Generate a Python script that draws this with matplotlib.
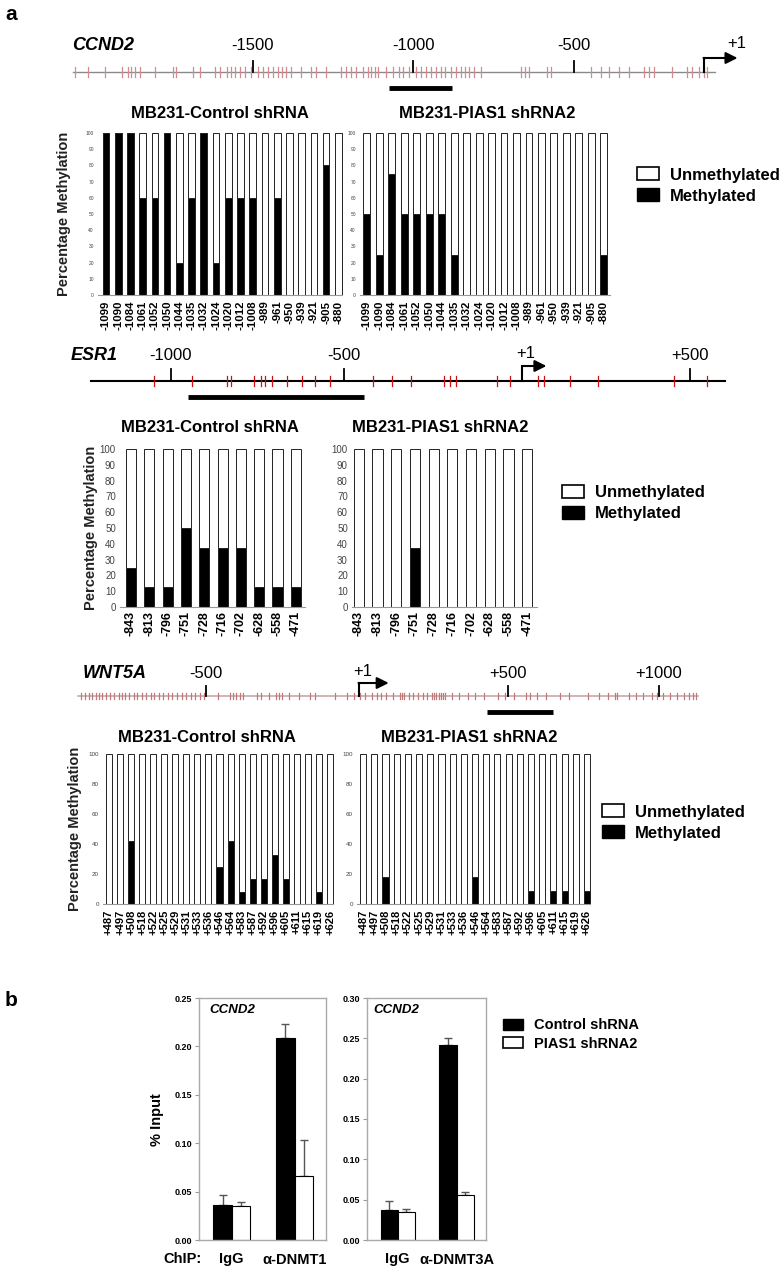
import matplotlib.pyplot as plt
from matplotlib.patches import Patch
from matplotlib.ticker import MultipleLocator, FormatStrFormatter

plt.rcParams['font.family'] = ['Liberation Sans', 'DejaVu Sans']

W, H = 782, 1271

# ---------------- gene maps (positions in bp relative to TSS) ----------------
CCND2_CPG = [-2053, -2014, -1959, -1905, -1889, -1878, -1866, -1850, -1803, -1748,
             -1738, -1686, -1663, -1616, -1600, -1581, -1566, -1553, -1538, -1522,
             -1506, -1483, -1467, -1452, -1436, -1420, -1409, -1397, -1381, -1350,
             -1319, -1303, -1272, -1225, -1209, -1194, -1178, -1155, -1139, -1131,
             -1119, -1108, -1084, -1061, -1045, -1030, -1014, -991, -975, -959,
             -944, -928, -913, -900, -881, -866, -850, -838, -827, -811, -788,
             -663, -650, -639, -584, -569, -444, -413, -389, -358, -327, -280,
             -264, -248, -194, -147, -131, -108, -92, -84]
CCND2_TICKS = [-1500, -1000, -500]
CCND2_SPAN = (-2060, -58)
CCND2_TSS = -95
CCND2_AMPLICON = (-1075, -880)

ESR1_CPG = [-1048, -938, -836, -825, -760, -739, -727, -708, -664, -620, -583,
            -541, -415, -361, -306, -210, -192, -177, -59, -19, 62, 78, 153, 234,
            453, 548]
ESR1_TICKS = [-1000, -500, 500]
ESR1_SPAN = (-1230, 600)
ESR1_TSS = 15
ESR1_AMPLICON = (-950, -442)

WNT5A_CPG = [-915, -900, -889, -877, -865, -854, -844, -831, -819, -804, -789,
             -778, -768, -756, -740, -728, -713, -698, -683, -672, -657, -642,
             -626, -611, -596, -581, -566, -550, -535, -520, -505, -459, -421,
             -409, -399, -388, -376, -330, -318, -292, -269, -257, -247, -224,
             -193, -155, -140, -72, -34, -11, 11, 27, 50, 65, 80, 95, 118, 141,
             148, 156, 171, 186, 201, 217, 232, 247, 255, 262, 270, 277, 285,
             293, 315, 338, 369, 391, 422, 467, 490, 521, 558, 574, 596, 627,
             672, 703, 764, 802, 832, 855, 862, 900, 923, 946, 976, 992, 1014,
             1037, 1060, 1083, 1098, 1113, 1121]
WNT5A_TICKS = [-500, 500, 1000]
WNT5A_SPAN = (-924, 1129)
WNT5A_TSS = 5
WNT5A_AMPLICON = (430, 649)

# ---------------- bisulfite sequencing (% methylated) ----------------
CCND2_SITES = ['-1099', '-1090', '-1084', '-1061', '-1052', '-1050', '-1044',
               '-1035', '-1032', '-1024', '-1020', '-1012', '-1008', '-989',
               '-961', '-950', '-939', '-921', '-905', '-880']
CCND2_CTRL = [100, 100, 100, 60, 60, 100, 20, 60, 100, 20, 60, 60, 60, 0, 60,
              0, 0, 0, 80, 0]
CCND2_PIAS = [50, 25, 75, 50, 50, 50, 50, 25, 0, 0, 0, 0, 0, 0, 0, 0, 0, 0, 0, 25]

ESR1_SITES = ['-843', '-813', '-796', '-751', '-728', '-716', '-702', '-628',
              '-558', '-471']
ESR1_CTRL = [25, 12.5, 12.5, 50, 37.5, 37.5, 37.5, 12.5, 12.5, 12.5]
ESR1_PIAS = [0, 0, 0, 37.5, 0, 0, 0, 0, 0, 0]

WNT5A_SITES = ['+487', '+497', '+508', '+518', '+522', '+525', '+529', '+531',
               '+533', '+536', '+546', '+564', '+583', '+587', '+592', '+596',
               '+605', '+611', '+615', '+619', '+626']
WNT5A_CTRL = [0, 0, 42, 0, 0, 0, 0, 0, 0, 0, 25, 42, 8, 17, 17, 33, 17, 0, 0, 8, 0]
WNT5A_PIAS = [0, 0, 18, 0, 0, 0, 0, 0, 0, 0, 18, 0, 0, 0, 0, 9, 0, 9, 9, 0, 9]

# ---------------- ChIP (% input) ----------------
CHIP1_GROUPS = ['IgG', 'α-DNMT1']
CHIP1_CTRL = [0.036, 0.209]
CHIP1_CTRL_ERR = [0.011, 0.014]
CHIP1_PIAS = [0.035, 0.066]
CHIP1_PIAS_ERR = [0.004, 0.037]

CHIP2_GROUPS = ['IgG', 'α-DNMT3A']
CHIP2_CTRL = [0.037, 0.242]
CHIP2_CTRL_ERR = [0.011, 0.009]
CHIP2_PIAS = [0.035, 0.056]
CHIP2_PIAS_ERR = [0.004, 0.003]

fig = plt.figure(figsize=(W / 100, H / 100), dpi=100)


def rect(l, t, r, b):
    return [l / W, 1 - b / H, (r - l) / W, (b - t) / H]


def put(x, y, s, **kw):
    fig.text(x / W, 1 - y / H, s, **kw)


def gene_map(name, name_x, y, xlim, span, ticks, tss, tss_lab_x, cpg, amplicon,
             line_color, line_w, cpg_color, cpg_h, arrow_len, lab_dy, tick_h):
    ax = fig.add_axes(rect(0, 0, W, H))
    ax.set_xlim(*xlim)
    ax.set_ylim(H, 0)
    ax.axis('off')
    ax.plot(span, [y, y], color=line_color, lw=line_w, zorder=1)
    for c in cpg:
        ax.plot([c, c], [y - cpg_h, y + cpg_h], color=cpg_color, lw=0.9, zorder=2)
    for t in ticks:
        ax.plot([t, t], [y - tick_h, y], color='black', lw=1.3, zorder=3)
        ax.text(t, y - lab_dy, f'{t:+d}', ha='center', va='center', fontsize=12)
    # transcription start arrow
    ax.plot([tss, tss], [y, y - tick_h - 3], color='black', lw=1.5, zorder=3)
    ax.annotate('', xy=(tss + arrow_len, y - tick_h - 3), xytext=(tss, y - tick_h - 3),
                arrowprops=dict(arrowstyle='-|>,head_length=0.7,head_width=0.35',
                                color='black', lw=1.5, shrinkA=0, shrinkB=0))
    ax.text(tss_lab_x, y - lab_dy - 2, '+1', ha='center', va='center', fontsize=12)
    ax.plot(amplicon, [y + 16, y + 16], color='black', lw=3.5, solid_capstyle='butt')
    put(name_x, y - lab_dy, name, ha='left', va='center', fontsize=13,
        fontweight='bold', style='italic')


def meth_panel(box, sites, meth, xlim, ystep, ytick_fs, xtick_fs, xpad):
    ax = fig.add_axes(rect(*box))
    x = list(range(len(sites)))
    unmeth = [100 - m for m in meth]
    ax.bar(x, meth, width=0.55, color='black', edgecolor='#222222', linewidth=0.7,
           clip_on=False)
    ax.bar(x, unmeth, bottom=meth, width=0.55, color='white', edgecolor='#222222',
           linewidth=0.7, clip_on=False)
    ax.set_xlim(*xlim)
    ax.set_ylim(0, 100)
    ax.set_yticks(range(0, 101, ystep))
    ax.tick_params(axis='y', length=0, labelsize=ytick_fs, labelcolor='#444444', pad=3)
    ax.set_xticks(x)
    ax.set_xticklabels(sites, rotation=90, fontsize=xtick_fs, fontweight='bold')
    ax.tick_params(axis='x', length=0, pad=xpad)
    for s in ['top', 'right', 'left']:
        ax.spines[s].set_visible(False)
    ax.spines['bottom'].set_color('#999999')
    ax.patch.set_alpha(0)
    return ax


def meth_legend(x, y):
    handles = [Patch(facecolor='white', edgecolor='black', linewidth=1.2),
               Patch(facecolor='black', edgecolor='black')]
    fig.legend(handles, ['Unmethylated', 'Methylated'], loc='center left',
               bbox_to_anchor=(x / W, 1 - y / H), frameon=False,
               prop={'size': 12, 'weight': 'bold'}, handlelength=1.3,
               handleheight=0.8, handletextpad=0.7, labelspacing=0.35,
               borderpad=0, borderaxespad=0)


def ylab(x, y):
    put(x, y, 'Percentage Methylation', rotation=90, ha='center', va='center',
        fontsize=10.5, fontweight='bold', color='#222222')


put(11, 15, 'a', fontsize=15, fontweight='bold', ha='center', va='center')

# ---------- CCND2 ----------
gene_map('CCND2', 72, 72, (-2286.6, 149.5), CCND2_SPAN, CCND2_TICKS, CCND2_TSS, 10,
         CCND2_CPG, CCND2_AMPLICON, '#8a8a8a', 1.0, '#d68a90', 5, 106, 26, 11)
meth_panel((98, 133, 342, 295), CCND2_SITES, CCND2_CTRL, (-0.65, 19.3), 10, 3.5, 8.2, 4)
meth_panel((360, 133, 610, 295), CCND2_SITES, CCND2_PIAS, (-0.55, 19.5), 10, 3.5, 8.2, 4)
put(220, 113, 'MB231-Control shRNA', ha='center', va='center', fontsize=12, fontweight='bold')
put(487, 113, 'MB231-PIAS1 shRNA2', ha='center', va='center', fontsize=12, fontweight='bold')
ylab(64, 214)
meth_legend(637, 185.5)

# ---------- ESR1 ----------
gene_map('ESR1', 71, 381, (-1492.5, 765.0), ESR1_SPAN, ESR1_TICKS, ESR1_TSS, 25,
         ESR1_CPG, ESR1_AMPLICON, 'black', 1.5, '#cc1111', 5, 70, 26, 12)
meth_panel((120, 449, 305, 607), ESR1_SITES, ESR1_CTRL, (-0.6, 9.5), 10, 7, 9, 3)
meth_panel((352, 449, 537, 607), ESR1_SITES, ESR1_PIAS, (-0.37, 9.53), 10, 7, 9, 3)
put(210, 427, 'MB231-Control shRNA', ha='center', va='center', fontsize=12, fontweight='bold')
put(440, 427, 'MB231-PIAS1 shRNA2', ha='center', va='center', fontsize=12, fontweight='bold')
ylab(91, 528)
meth_legend(562, 503)

# ---------- WNT5A ----------
gene_map('WNT5A', 83, 696, (-1182.1, 1407.3), WNT5A_SPAN, WNT5A_TICKS, WNT5A_TSS, 20,
         WNT5A_CPG, WNT5A_AMPLICON, '#c9a9a9', 1.2, '#c07878', 3, 100, 23, 10)
meth_panel((103, 754, 333, 904), WNT5A_SITES, WNT5A_CTRL, (-0.54, 20.27), 20, 4.5, 8, 4)
meth_panel((357, 754, 590, 904), WNT5A_SITES, WNT5A_PIAS, (-0.54, 20.27), 20, 4.5, 8, 4)
put(207, 737, 'MB231-Control shRNA', ha='center', va='center', fontsize=12, fontweight='bold')
put(469, 737, 'MB231-PIAS1 shRNA2', ha='center', va='center', fontsize=12, fontweight='bold')
ylab(75, 829)
meth_legend(602, 822.5)

# ---------- panel b ----------
put(11, 1000, 'b', fontsize=15, fontweight='bold', ha='center', va='center')


def chip_panel(box, groups, ctrl, ctrl_err, pias, pias_err, ymax, lab_x):
    ax = fig.add_axes(rect(*box))
    w = 0.29
    xc = [i - w / 2 for i in range(len(groups))]
    xp = [i + w / 2 for i in range(len(groups))]
    ax.errorbar(xc, ctrl, yerr=[[0] * len(ctrl), ctrl_err], fmt='none',
                ecolor='#555555', elinewidth=1, capsize=3, capthick=1, zorder=1)
    ax.errorbar(xp, pias, yerr=[[0] * len(pias), pias_err], fmt='none',
                ecolor='#555555', elinewidth=1, capsize=3, capthick=1, zorder=1)
    ax.bar(xc, ctrl, w, color='black', edgecolor='black', linewidth=0.8, zorder=2)
    ax.bar(xp, pias, w, color='white', edgecolor='black', linewidth=0.8, zorder=2)
    ax.set_xlim(-0.52, 1.5)
    ax.set_ylim(0, ymax)
    ax.yaxis.set_major_locator(MultipleLocator(0.05))
    ax.yaxis.set_major_formatter(FormatStrFormatter('%.2f'))
    ax.tick_params(axis='y', length=3, color='#999999', labelsize=6.5, pad=2)
    for lab in ax.get_yticklabels():
        lab.set_fontweight('bold')
    ax.set_xticks(range(len(groups)))
    ax.set_xticklabels(groups, fontsize=10.5, fontweight='bold')
    ax.tick_params(axis='x', length=0, pad=9)
    for s in ax.spines.values():
        s.set_color('#aaaaaa')
        s.set_linewidth(1)
    ax.text(lab_x, 0.95, 'CCND2', transform=ax.transAxes, fontsize=9.5,
            fontweight='bold', style='italic', va='center', ha='left')
    return ax


chip_panel((199, 998, 326, 1240), CHIP1_GROUPS, CHIP1_CTRL, CHIP1_CTRL_ERR,
           CHIP1_PIAS, CHIP1_PIAS_ERR, 0.25, 0.08)
chip_panel((367, 998, 486, 1240), CHIP2_GROUPS, CHIP2_CTRL, CHIP2_CTRL_ERR,
           CHIP2_PIAS, CHIP2_PIAS_ERR, 0.30, 0.05)
put(157, 1120, '% Input', rotation=90, ha='center', va='center', fontsize=10.5,
    fontweight='bold')
put(182, 1259, 'ChIP:', ha='center', va='center', fontsize=10.5, fontweight='bold')

fig.legend([Patch(facecolor='black', edgecolor='black'),
            Patch(facecolor='white', edgecolor='black', linewidth=1.2)],
           ['Control shRNA', 'PIAS1 shRNA2'], loc='center left',
           bbox_to_anchor=(503 / W, 1 - 1034.5 / H), frameon=False,
           prop={'size': 10.5, 'weight': 'bold'}, handlelength=1.4, handleheight=0.8,
           handletextpad=0.7, labelspacing=0.3, borderpad=0, borderaxespad=0)

fig.savefig('out.png', dpi=100)
